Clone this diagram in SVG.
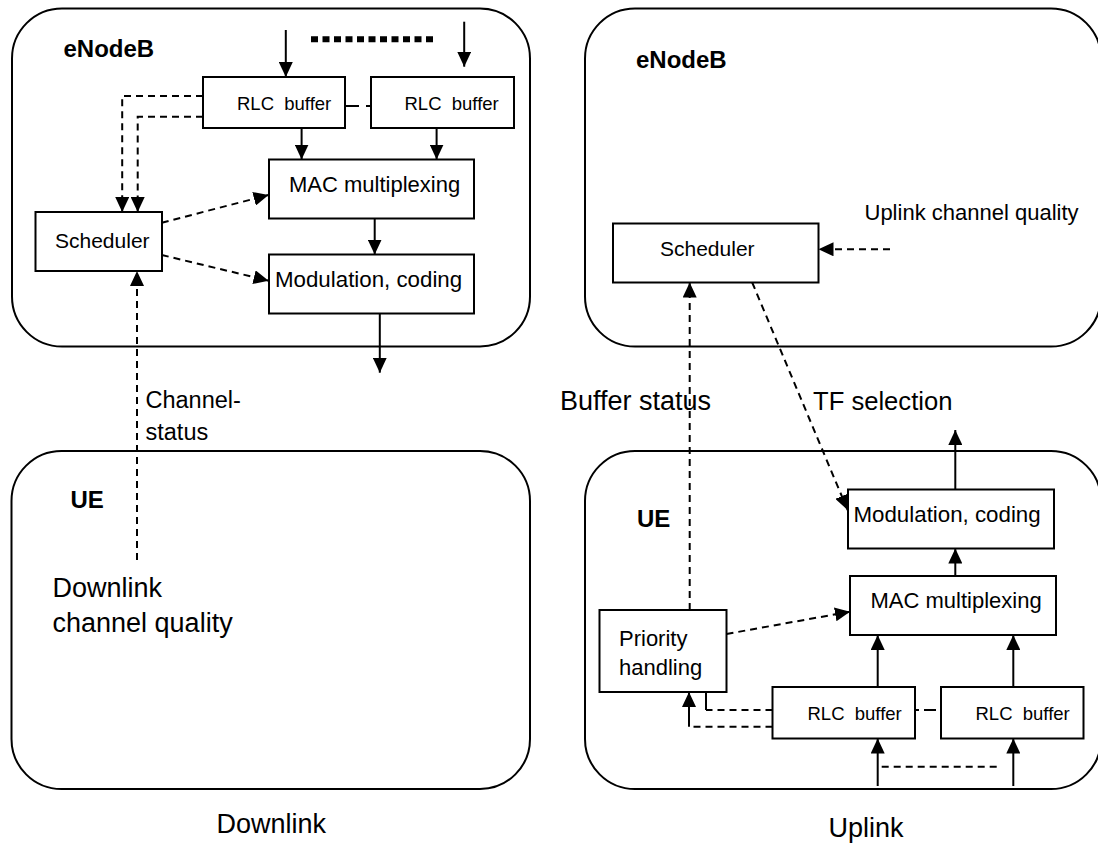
<svg xmlns="http://www.w3.org/2000/svg" width="1098" height="848" viewBox="0 0 1098 848">
<style>
  .frame{fill:none;stroke:#000;stroke-width:2}
  .box{fill:#fff;stroke:#000;stroke-width:2}
  .t{font-family:"Liberation Sans",Arial,sans-serif;fill:#000}
  .title{font-weight:bold;font-size:24px}
  .rlc{font-size:18.5px}
  .lbl{font-size:22px}
  .big{font-size:27px}
  .solid{fill:none;stroke:#000;stroke-width:2}
  .dash{fill:none;stroke:#000;stroke-width:2;stroke-dasharray:7 5}
</style>
<defs>
  <marker id="ah" viewBox="0 0 15 14" markerWidth="15" markerHeight="14" refX="15" refY="7" orient="auto" markerUnits="userSpaceOnUse">
    <path d="M0,0 L15,7 L0,14 Z" fill="#000" stroke="none"/>
  </marker>
</defs>

<g id="dl-enodeb">
  <rect class="frame" x="12" y="8.5" width="518" height="338" rx="50" ry="50"/>
  <text class="t title" x="63.5" y="56.5">eNodeB</text>
</g>
<g id="dl-rlc1">
  <rect class="box" x="203" y="77" width="142" height="51"/>
  <text class="t rlc" x="237" y="110" xml:space="preserve">RLC  buffer</text>
</g>
<g id="dl-rlc2">
  <rect class="box" x="371" y="77" width="143" height="51"/>
  <text class="t rlc" x="404.5" y="110" xml:space="preserve">RLC  buffer</text>
</g>
<g id="dl-mac">
  <rect class="box" x="269" y="159.5" width="205" height="59"/>
  <text class="t lbl" x="289" y="191.5">MAC multiplexing</text>
</g>
<g id="dl-mod">
  <rect class="box" x="269" y="254.5" width="205" height="59"/>
  <text class="t" style="font-size:22.3px" x="275" y="287">Modulation, coding</text>
</g>
<g id="dl-scheduler">
  <rect class="box" x="35.5" y="212" width="126.5" height="59"/>
  <text class="t" style="font-size:21px" x="55" y="248">Scheduler</text>
</g>
<g id="dl-ue">
  <rect class="frame" x="11.5" y="451" width="518.5" height="338" rx="50" ry="50"/>
  <text class="t title" x="70.5" y="508">UE</text>
</g>

<g id="ul-enodeb">
  <rect class="frame" x="585" y="8.5" width="516" height="338" rx="50" ry="50"/>
  <text class="t title" x="636" y="68">eNodeB</text>
</g>
<g id="ul-scheduler">
  <rect class="box" x="613" y="223.5" width="205.5" height="59"/>
  <text class="t" style="font-size:21px" x="660" y="256">Scheduler</text>
</g>
<g id="ul-ue">
  <rect class="frame" x="585" y="451" width="516" height="338" rx="50" ry="50"/>
  <text class="t title" x="637" y="526.5">UE</text>
</g>
<g id="ul-mod">
  <rect class="box" x="848" y="489.5" width="206" height="59"/>
  <text class="t" style="font-size:22.3px" x="853.5" y="522">Modulation, coding</text>
</g>
<g id="ul-mac">
  <rect class="box" x="850" y="576" width="206" height="59"/>
  <text class="t lbl" x="870.5" y="607.5">MAC multiplexing</text>
</g>
<g id="ul-priority">
  <rect class="box" x="599.5" y="610" width="127" height="82"/>
  <text class="t lbl" x="619" y="646">Priority</text>
  <text class="t lbl" x="619" y="675">handling</text>
</g>
<g id="ul-rlc1">
  <rect class="box" x="772.5" y="687" width="142.5" height="51.5"/>
  <text class="t rlc" x="807.5" y="720" xml:space="preserve">RLC  buffer</text>
</g>
<g id="ul-rlc2">
  <rect class="box" x="941" y="687" width="142.5" height="51.5"/>
  <text class="t rlc" x="975.5" y="720" xml:space="preserve">RLC  buffer</text>
</g>

<g id="labels">
  <text class="t" style="font-size:23.5px" x="145.5" y="408">Channel-</text>
  <text class="t" style="font-size:23.5px" x="145.5" y="440">status</text>
  <text class="t big" x="52.5" y="596.5">Downlink</text>
  <text class="t big" x="52.5" y="632">channel quality</text>
  <text class="t big" x="216.5" y="833">Downlink</text>
  <text class="t lbl" x="864.5" y="220">Uplink channel quality</text>
  <text class="t big" x="560" y="410">Buffer status</text>
  <text class="t" style="font-size:25.6px" x="813" y="410">TF selection</text>
  <text class="t big" x="828.5" y="836.5">Uplink</text>
</g>

<g id="connectors">
  <!-- downlink -->
  <path class="solid" d="M285.8,30 V77" marker-end="url(#ah)"/>
  <path class="solid" d="M464.2,21.7 V66.7" marker-end="url(#ah)"/>
  <path d="M311,39.3 H437" fill="none" stroke="#000" stroke-width="6" stroke-dasharray="7 4.5"/>
  <path d="M345,106 H371" fill="none" stroke="#000" stroke-width="2" stroke-dasharray="14 7"/>
  <path class="solid" d="M301.6,128.3 V159.5" marker-end="url(#ah)"/>
  <path class="solid" d="M436.6,128.3 V159.5" marker-end="url(#ah)"/>
  <path class="solid" d="M374.7,218.5 V254.5" marker-end="url(#ah)"/>
  <path class="solid" d="M379.8,313.5 V372.7" marker-end="url(#ah)"/>
  <path class="dash" d="M203,96 H122.2 V212" marker-end="url(#ah)"/>
  <path class="dash" d="M203,116.7 H137.7 V212" marker-end="url(#ah)"/>
  <path class="dash" d="M161.8,222.7 L268.6,195" marker-end="url(#ah)"/>
  <path class="dash" d="M161.8,255 L268.6,280.7" marker-end="url(#ah)"/>
  <path class="dash" d="M137,560 V271" marker-end="url(#ah)"/>
  <!-- uplink -->
  <path class="dash" d="M890,249.3 H818.5" marker-end="url(#ah)"/>
  <path class="dash" d="M689.7,610 V282.5" marker-end="url(#ah)"/>
  <path class="dash" d="M752.2,282.5 L847.6,510" marker-end="url(#ah)"/>
  <path class="solid" d="M955.3,489.5 V430" marker-end="url(#ah)"/>
  <path class="solid" d="M955.3,576 V548.5" marker-end="url(#ah)"/>
  <path class="dash" d="M726.5,634 L850,611.7" marker-end="url(#ah)"/>
  <path class="solid" d="M877.7,687 V635" marker-end="url(#ah)"/>
  <path class="solid" d="M1013.3,687 V635" marker-end="url(#ah)"/>
  <path d="M915,710 H941" fill="none" stroke="#000" stroke-width="2" stroke-dasharray="4 5 12 5"/>
  <path class="dash" d="M772.5,710 H706"/>
  <path class="solid" d="M706,710 V692 M702,692 H713"/>
  <path class="dash" d="M772.5,726.7 H689"/>
  <path class="solid" d="M689,726.7 V692" marker-end="url(#ah)"/>
  <path class="solid" d="M877.7,786 V738.5" marker-end="url(#ah)"/>
  <path class="solid" d="M1013.3,786 V738.5" marker-end="url(#ah)"/>
  <path class="dash" d="M881.7,766.7 H1000.7"/>
</g>
</svg>
